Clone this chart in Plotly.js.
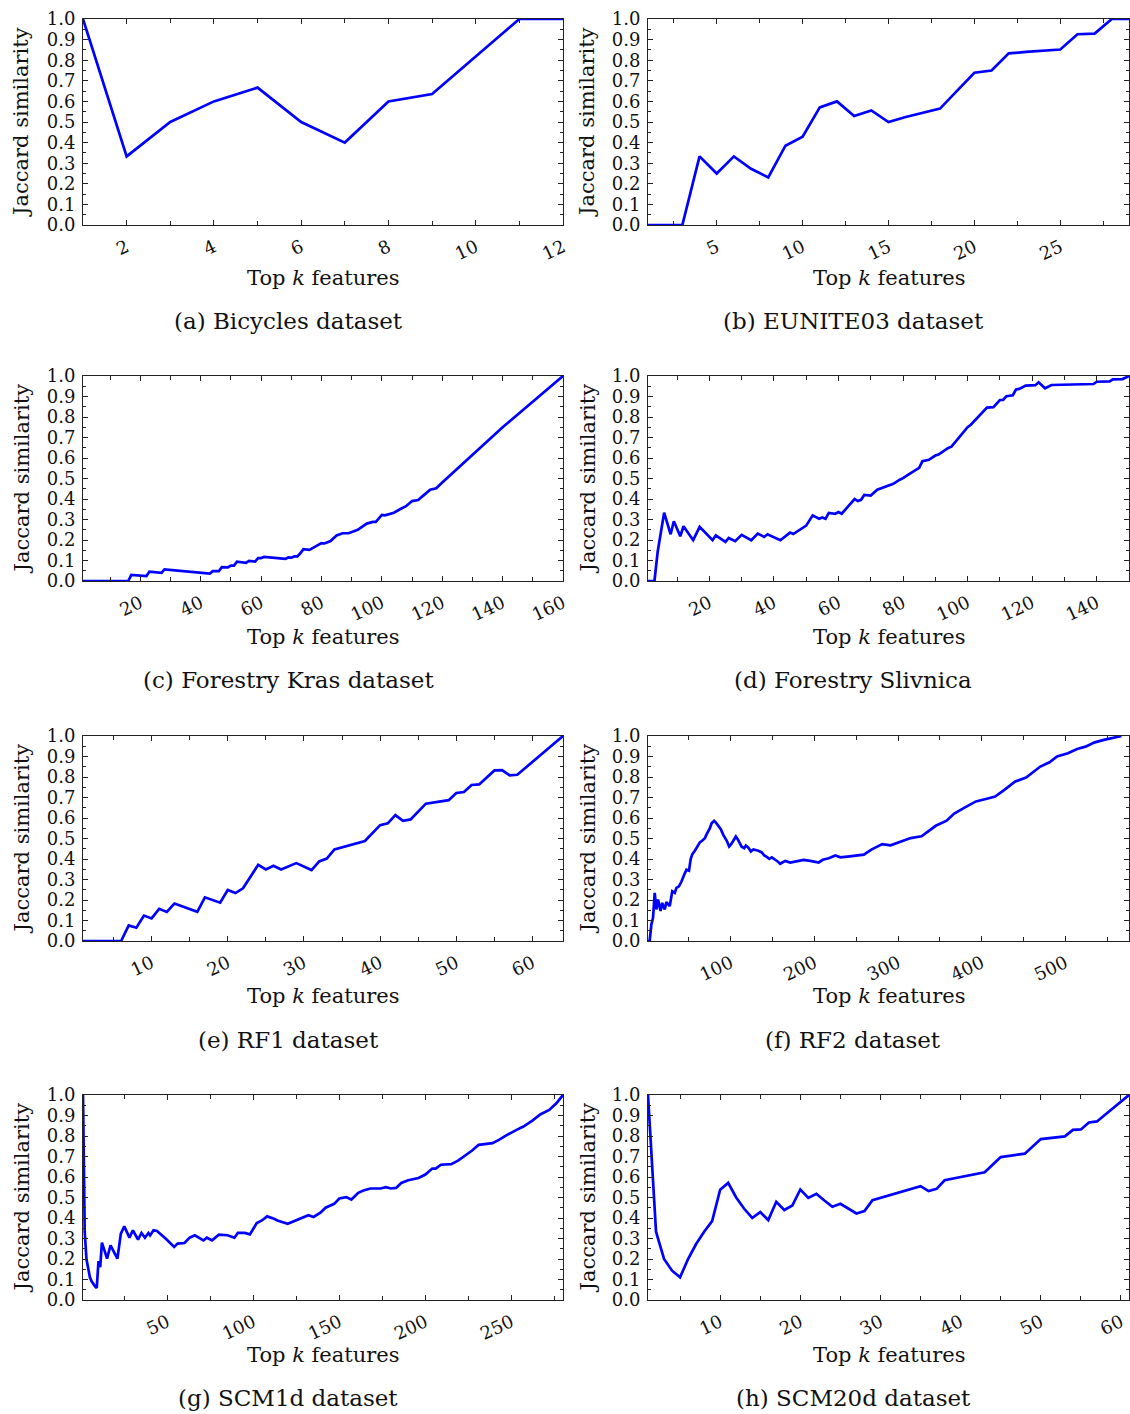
<!DOCTYPE html>
<html>
<head>
<meta charset="utf-8">
<script src="https://cdn.plot.ly/plotly-3.0.1.min.js"></script>
<style>
  html, body { margin: 0; padding: 0; background: #ffffff; }
  #chart { width: 1130px; height: 1414px; }
</style>
</head>
<body>
<div id="chart"></div>
<script>
// ---- Jaccard similarity of the top-k feature sets, per dataset ----

// (a) Bicycles
const bicyclesK = [1, 2, 3, 4, 5, 6, 7, 8, 9, 10, 11, 12];
const bicyclesJ = [1.0, 0.333, 0.5, 0.6, 0.667, 0.5, 0.4, 0.6, 0.636, 0.818, 1.0, 1.0];

// (b) EUNITE03
const euniteK = [1, 2, 3, 4, 5, 6, 7, 8, 9, 10, 11, 12, 13, 14, 15, 16, 17, 18, 19, 20,
                 21, 22, 23, 24, 25, 26, 27, 28, 29];
const euniteJ = [0, 0, 0, 0.333, 0.25, 0.333, 0.273, 0.231, 0.385, 0.429, 0.571, 0.6, 0.529,
                 0.556, 0.5, 0.524, 0.545, 0.565, 0.652, 0.739, 0.75, 0.833, 0.84, 0.846,
                 0.852, 0.926, 0.929, 1.0, 1.0];

// (c) Forestry Kras
const krasK = [1, 16, 17, 22, 23, 27, 28, 43, 44, 46, 47, 49, 50, 51, 52, 55, 56, 58, 59, 60,
               61, 68, 69, 70, 71, 72, 73, 74, 76, 77, 79, 80, 81, 83, 85, 87, 89, 92, 95, 97,
               98, 100, 101, 104, 106, 108, 110, 112, 114, 116, 118, 120, 140, 160];
const krasJ = [0, 0, 0.03, 0.024, 0.045, 0.04, 0.057, 0.036, 0.048, 0.048, 0.068, 0.066, 0.075,
               0.075, 0.094, 0.089, 0.098, 0.095, 0.112, 0.112, 0.118, 0.108, 0.115, 0.114,
               0.12, 0.12, 0.135, 0.155, 0.152, 0.16, 0.18, 0.185, 0.183, 0.195, 0.222, 0.233,
               0.233, 0.25, 0.28, 0.288, 0.288, 0.322, 0.32, 0.333, 0.35, 0.365, 0.39, 0.395,
               0.42, 0.445, 0.452, 0.48, 0.75, 1.0];

// (d) Forestry Slivnica
const slivnicaK = [1, 2, 3, 4, 5, 6, 8, 9, 11, 12, 15, 17, 21, 22, 25, 26, 28, 30, 33, 35, 37,
                   38, 42, 45, 46, 50, 52, 54, 55, 56, 57, 59, 60, 61, 63, 65, 66, 67, 68, 70,
                   72, 77, 79, 80, 82, 84, 85, 86, 88, 90, 91, 94, 95, 100, 101, 106, 108, 110,
                   111, 112, 114, 115, 116, 118, 121, 122, 124, 126, 139, 140, 144, 145, 148, 150];
const slivnicaJ = [0, 0, 0, 0.143, 0.25, 0.333, 0.228, 0.291, 0.218, 0.267, 0.199, 0.264, 0.199,
                   0.223, 0.191, 0.21, 0.194, 0.225, 0.199, 0.231, 0.215, 0.228, 0.199, 0.236,
                   0.229, 0.27, 0.32, 0.304, 0.31, 0.303, 0.332, 0.328, 0.336, 0.328, 0.364,
                   0.4, 0.39, 0.396, 0.42, 0.417, 0.445, 0.474, 0.494, 0.502, 0.523, 0.544,
                   0.552, 0.584, 0.591, 0.612, 0.617, 0.649, 0.655, 0.75, 0.762, 0.846, 0.848,
                   0.883, 0.883, 0.901, 0.906, 0.934, 0.937, 0.953, 0.955, 0.969, 0.94, 0.956,
                   0.961, 0.972, 0.974, 0.984, 0.985, 1.0];

// (e) RF1
const rf1K = [1, 6, 7, 8, 9, 10, 11, 12, 13, 16, 17, 19, 20, 21, 22, 24, 25, 26, 27, 29, 31, 32,
              33, 34, 38, 40, 41, 42, 43, 44, 46, 49, 50, 51, 52, 53, 55, 56, 57, 58, 64];
const rf1J = [0, 0, 0.076, 0.065, 0.124, 0.11, 0.157, 0.142, 0.183, 0.142, 0.213, 0.187, 0.249,
              0.234, 0.257, 0.372, 0.349, 0.367, 0.349, 0.38, 0.346, 0.388, 0.402, 0.447,
              0.488, 0.565, 0.574, 0.614, 0.586, 0.593, 0.67, 0.687, 0.722, 0.727, 0.761,
              0.764, 0.832, 0.834, 0.808, 0.811, 1.0];

// (f) RF2
const rf2K = [1, 3, 5, 7, 9, 11, 13, 16, 18, 21, 23, 25, 27, 30, 33, 35, 38, 41, 43, 45, 47, 50,
              52, 54, 57, 59, 61, 63, 66, 69, 71, 73, 75, 77, 80, 82, 84, 88, 91, 95, 98, 100,
              103, 106, 108, 111, 113, 116, 118, 121, 124, 127, 130, 133, 137, 140, 143, 146,
              149, 153, 156, 159, 165, 171, 177, 187, 195, 205, 210, 217, 225, 231, 242, 259,
              268, 281, 291, 302, 315, 328, 337, 345, 358, 367, 380, 393, 406, 416, 427, 440,
              453, 462, 470, 481, 490, 503, 514, 524, 535, 546, 557, 567, 576];
const rf2J = [0, 0, 0.08, 0.113, 0.235, 0.154, 0.202, 0.146, 0.186, 0.154, 0.19, 0.178, 0.17,
              0.243, 0.235, 0.259, 0.267, 0.29, 0.316, 0.33, 0.348, 0.343, 0.4, 0.424, 0.44,
              0.453, 0.47, 0.481, 0.49, 0.502, 0.52, 0.534, 0.55, 0.574, 0.586, 0.578, 0.566,
              0.545, 0.518, 0.49, 0.461, 0.47, 0.489, 0.51, 0.498, 0.477, 0.46, 0.453, 0.466,
              0.455, 0.437, 0.447, 0.445, 0.44, 0.432, 0.417, 0.41, 0.401, 0.408, 0.398,
              0.388, 0.377, 0.391, 0.383, 0.388, 0.396, 0.391, 0.383, 0.396, 0.404, 0.417,
              0.408, 0.413, 0.421, 0.446, 0.473, 0.467, 0.483, 0.502, 0.511, 0.538, 0.562,
              0.587, 0.622, 0.652, 0.681, 0.694, 0.705, 0.737, 0.778, 0.797, 0.827, 0.851,
              0.872, 0.9, 0.916, 0.937, 0.948, 0.969, 0.981, 0.992, 1.0];

// (g) SCM1d
const scm1dK = [1, 2, 3, 4, 5, 6, 7, 8, 9, 10, 11, 12, 15, 17, 21, 23, 25, 28, 30, 33, 35, 37,
                39, 40, 42, 44, 49, 54, 56, 60, 63, 66, 71, 73, 76, 80, 85, 89, 91, 95, 98, 102,
                105, 108, 112, 114, 120, 126, 132, 135, 139, 142, 147, 150, 154, 157, 161, 164,
                168, 174, 177, 180, 183, 186, 190, 196, 200, 204, 206, 209, 215, 219, 224, 227,
                231, 236, 239, 243, 247, 253, 257, 262, 267, 272, 276, 280];
const scm1dJ = [1.0, 0.333, 0.2, 0.143, 0.111, 0.091, 0.077, 0.067, 0.059, 0.19, 0.16, 0.28,
                0.202, 0.267, 0.202, 0.324, 0.359, 0.304, 0.34, 0.295, 0.327, 0.304, 0.327,
                0.315, 0.34, 0.337, 0.3, 0.259, 0.275, 0.278, 0.304, 0.316, 0.291, 0.304,
                0.291, 0.319, 0.316, 0.304, 0.327, 0.327, 0.32, 0.375, 0.388, 0.408, 0.396,
                0.388, 0.372, 0.393, 0.414, 0.405, 0.426, 0.45, 0.469, 0.495, 0.502, 0.49,
                0.523, 0.534, 0.544, 0.544, 0.55, 0.544, 0.547, 0.571, 0.584, 0.595, 0.612,
                0.641, 0.641, 0.66, 0.663, 0.68, 0.709, 0.728, 0.757, 0.763, 0.765, 0.782,
                0.803, 0.83, 0.846, 0.874, 0.906, 0.927, 0.958, 1.0];

// (h) SCM20d
const scm20dK = [1, 2, 3, 4, 5, 6, 7, 8, 9, 10, 11, 12, 13, 14, 15, 16, 17, 18, 19, 20, 21, 22,
                 23, 24, 25, 26, 27, 28, 29, 35, 36, 37, 38, 43, 45, 48, 50, 53, 54, 55, 56, 57, 61];
const scm20dJ = [1.0, 0.333, 0.2, 0.143, 0.111, 0.2, 0.273, 0.333, 0.385, 0.538, 0.571, 0.5,
                 0.445, 0.4, 0.429, 0.39, 0.479, 0.439, 0.461, 0.539, 0.498, 0.518, 0.485,
                 0.455, 0.469, 0.444, 0.422, 0.434, 0.487, 0.555, 0.531, 0.542, 0.584, 0.623,
                 0.697, 0.714, 0.785, 0.798, 0.83, 0.832, 0.866, 0.871, 1.0];

// Panel captions and x-axis ticks
const captions = ['(a) Bicycles dataset', '(b) EUNITE03 dataset', '(c) Forestry Kras dataset',
                  '(d) Forestry Slivnica', '(e) RF1 dataset', '(f) RF2 dataset',
                  '(g) SCM1d dataset', '(h) SCM20d dataset'];
const xMax = [12, 29, 160, 150, 64, 576, 280, 61];
const xMajor = [2, 5, 20, 20, 10, 100, 50, 10];
const xMinor = [1, 2.5, 10, 10, 5, 50, 25, 5];

const series = [
  [bicyclesK, bicyclesJ], [euniteK, euniteJ], [krasK, krasJ], [slivnicaK, slivnicaJ],
  [rf1K, rf1J], [rf2K, rf2J], [scm1dK, scm1dJ], [scm20dK, scm20dJ]
];

// ---- layout geometry (pixels) ----
const W = 1130, H = 1414;
const colX = [[83, 563], [648, 1129]];
const rowY = [[19, 225], [376, 581], [736, 941], [1095, 1300]];
const titleY = [278, 637, 996, 1355];
const captionY = [321, 680, 1040, 1398];
const captionX = [288, 853];
const yTitleX = [21, 587];

const FONT = 'DejaVu Serif, Liberation Serif, serif';
const INK = '#222222';

const px = x => x / W;
const py = y => 1 - y / H;

const data = [];
const layout = {
  width: W, height: H,
  margin: {l: 0, r: 0, t: 0, b: 0},
  paper_bgcolor: '#ffffff',
  plot_bgcolor: '#ffffff',
  showlegend: false,
  font: {family: FONT, color: '#111111', size: 17},
  annotations: []
};

series.forEach((s, i) => {
  const col = i % 2, row = Math.floor(i / 2);
  const n = i + 1;
  const xa = n === 1 ? 'xaxis' : 'xaxis' + n;
  const ya = n === 1 ? 'yaxis' : 'yaxis' + n;
  const [x0, x1] = colX[col];
  const [yTop, yBot] = rowY[row];

  data.push({
    type: 'scatter', mode: 'lines',
    x: s[0], y: s[1],
    xaxis: 'x' + (n === 1 ? '' : n), yaxis: 'y' + (n === 1 ? '' : n),
    line: {color: '#0000ff', width: 2.7},
    hoverinfo: 'skip'
  });

  layout[xa] = {
    domain: [px(x0), px(x1)],
    anchor: 'y' + (n === 1 ? '' : n),
    range: [1, xMax[i]],
    tick0: 0, dtick: xMajor[i],
    ticks: 'inside', ticklen: 5, tickwidth: 1, tickcolor: INK,
    minor: {ticks: 'inside', dtick: xMinor[i], tick0: 0, ticklen: 4, tickwidth: 1, tickcolor: INK},
    tickangle: -25,
    ticklabelstandoff: 4,
    tickfont: {family: FONT, size: 18, color: '#111111'},
    showline: true, linecolor: INK, linewidth: 1, mirror: 'allticks',
    showgrid: false, zeroline: false, fixedrange: true
  };
  layout[ya] = {
    domain: [py(yBot), py(yTop)],
    anchor: 'x' + (n === 1 ? '' : n),
    range: [0, 1],
    tick0: 0, dtick: 0.1, tickformat: '.1f',
    ticks: 'inside', ticklen: 5, tickwidth: 1, tickcolor: INK,
    minor: {ticks: 'inside', dtick: 0.05, tick0: 0, ticklen: 3, tickwidth: 1, tickcolor: INK},
    tickfont: {family: FONT, size: 18, color: '#111111'},
    ticklabelstandoff: 3,
    showline: true, linecolor: INK, linewidth: 1, mirror: 'allticks',
    showgrid: false, zeroline: false, fixedrange: true
  };

  // x-axis title
  layout.annotations.push({
    xref: 'paper', yref: 'paper',
    x: px((x0 + x1) / 2), y: py(titleY[row]),
    xanchor: 'center', yanchor: 'middle', showarrow: false,
    text: 'Top <i>k</i> features',
    font: {family: FONT, size: 21, color: '#111111'}
  });
  // y-axis title
  layout.annotations.push({
    xref: 'paper', yref: 'paper',
    x: px(yTitleX[col]), y: py((yTop + yBot) / 2),
    xanchor: 'center', yanchor: 'middle', showarrow: false,
    textangle: -90,
    text: 'Jaccard similarity',
    font: {family: FONT, size: 21, color: '#111111'}
  });
  // caption
  layout.annotations.push({
    xref: 'paper', yref: 'paper',
    x: px(captionX[col]), y: py(captionY[row]),
    xanchor: 'center', yanchor: 'middle', showarrow: false,
    text: captions[i],
    font: {family: FONT, size: 23, color: '#111111'}
  });
});

Plotly.newPlot('chart', data, layout, {staticPlot: true, displayModeBar: false});
</script>
</body>
</html>
